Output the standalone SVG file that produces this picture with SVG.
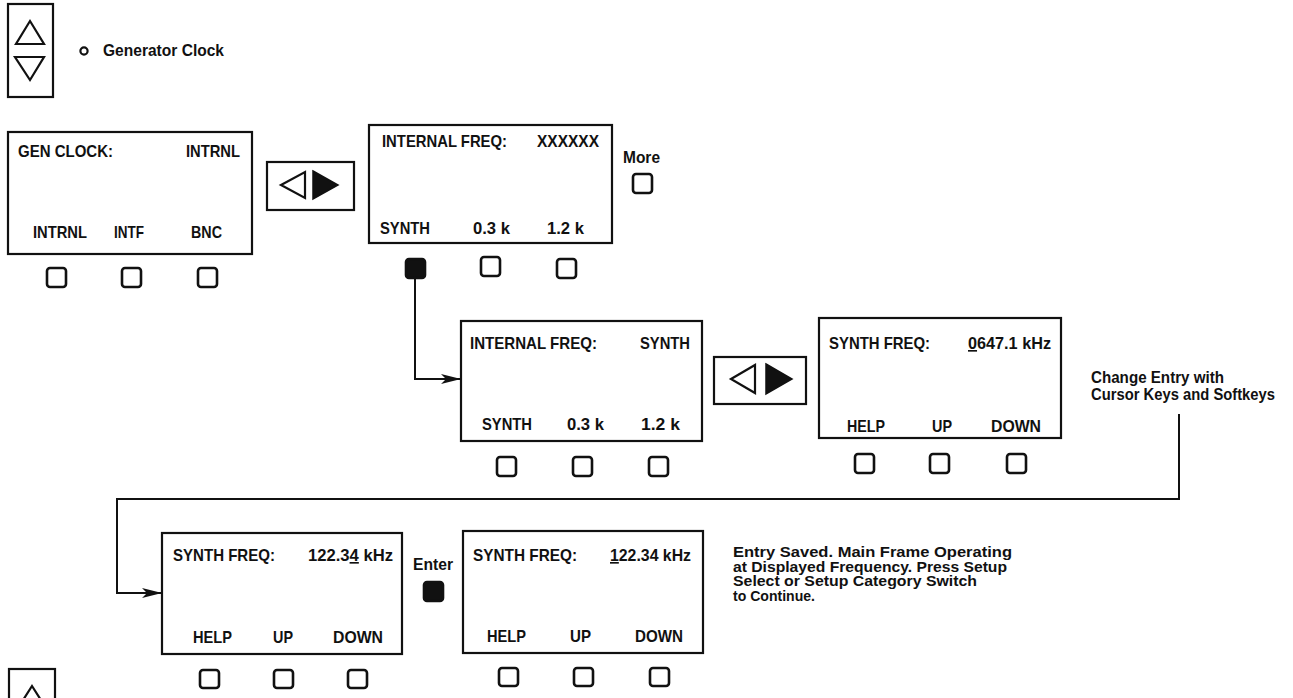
<svg xmlns="http://www.w3.org/2000/svg" width="1293" height="698" viewBox="0 0 1293 698">
<style>
text{font-family:"Liberation Sans",Arial,sans-serif;font-weight:bold;font-size:16.5px;fill:#111}
.p{font-size:15.5px}
.box{fill:none;stroke:#111;stroke-width:2.2}
.btn{fill:#fff;stroke:#111;stroke-width:2.6}
.btnf{fill:#111;stroke:#111;stroke-width:2.6}
.tri{fill:none;stroke:#111;stroke-width:2.2;stroke-linejoin:miter}
.trif{fill:#111;stroke:#111;stroke-width:1.5}
.wire{fill:none;stroke:#111;stroke-width:2}
.u{text-decoration:underline}
</style>
<defs>
<marker id="ah" viewBox="0 0 20 10" refX="20" refY="5" markerWidth="20" markerHeight="10" markerUnits="userSpaceOnUse" orient="auto">
<path d="M0,0 L20,5 L0,10 L5,5 z" fill="#111"/>
</marker>
</defs>

<g id="scroll-key-top">
<rect class="box" x="8" y="4" width="45" height="93"/>
<polygon class="tri" points="30,21 44,44 16,44"/>
<polygon class="tri" points="15,57 44,57 30,80"/>
</g>
<g id="generator-clock-label">
<circle cx="84" cy="51" r="3.6" fill="none" stroke="#111" stroke-width="2.2"/>
<text x="103" y="56" textLength="121" lengthAdjust="spacingAndGlyphs">Generator Clock</text>
</g>

<g id="screen-gen-clock">
<rect class="box" x="8" y="132" width="244" height="122"/>
<text x="18" y="157" textLength="95" lengthAdjust="spacingAndGlyphs">GEN CLOCK:</text>
<text x="186" y="157" textLength="54" lengthAdjust="spacingAndGlyphs">INTRNL</text>
<text x="33" y="238" textLength="54" lengthAdjust="spacingAndGlyphs">INTRNL</text>
<text x="114" y="238" textLength="30" lengthAdjust="spacingAndGlyphs">INTF</text>
<text x="191" y="238" textLength="31" lengthAdjust="spacingAndGlyphs">BNC</text>
<rect class="btn" x="47" y="268" width="19" height="19" rx="3"/>
<rect class="btn" x="122" y="268" width="19" height="19" rx="3"/>
<rect class="btn" x="198" y="268" width="19" height="19" rx="3"/>
</g>

<g id="cursor-keys-1">
<rect class="box" x="267" y="162" width="87" height="48"/>
<polygon class="tri" points="281,185 305,172 305,198"/>
<polygon class="trif" points="313,171 338,185 313,199"/>
</g>

<g id="screen-internal-freq">
<rect class="box" x="369" y="125" width="243" height="118"/>
<text x="382" y="147" textLength="125" lengthAdjust="spacingAndGlyphs">INTERNAL FREQ:</text>
<text x="537" y="147" textLength="62" lengthAdjust="spacingAndGlyphs">XXXXXX</text>
<text x="380" y="234" textLength="50" lengthAdjust="spacingAndGlyphs">SYNTH</text>
<text x="473" y="234" textLength="37" lengthAdjust="spacingAndGlyphs">0.3 k</text>
<text x="547" y="234" textLength="37" lengthAdjust="spacingAndGlyphs">1.2 k</text>
<rect class="btnf" x="406" y="259" width="19" height="19" rx="3"/>
<rect class="btn" x="481" y="257" width="19" height="19" rx="3"/>
<rect class="btn" x="557" y="259" width="19" height="19" rx="3"/>
</g>

<g id="more-key">
<text x="623" y="163" textLength="37" lengthAdjust="spacingAndGlyphs">More</text>
<rect class="btn" x="633" y="174" width="19" height="19" rx="3"/>
</g>

<g id="screen-internal-synth">
<rect class="box" x="461" y="321" width="241" height="120"/>
<text x="470" y="349" textLength="127" lengthAdjust="spacingAndGlyphs">INTERNAL FREQ:</text>
<text x="640" y="349" textLength="50" lengthAdjust="spacingAndGlyphs">SYNTH</text>
<text x="482" y="430" textLength="50" lengthAdjust="spacingAndGlyphs">SYNTH</text>
<text x="567" y="430" textLength="37" lengthAdjust="spacingAndGlyphs">0.3 k</text>
<text x="641" y="430" textLength="39" lengthAdjust="spacingAndGlyphs">1.2 k</text>
<rect class="btn" x="497" y="457" width="19" height="19" rx="3"/>
<rect class="btn" x="573" y="457" width="19" height="19" rx="3"/>
<rect class="btn" x="649" y="457" width="19" height="19" rx="3"/>
</g>

<g id="cursor-keys-2">
<rect class="box" x="714" y="357" width="92" height="47"/>
<polygon class="tri" points="731,379 755,365 755,393"/>
<polygon class="trif" points="766,364 792,379 766,394"/>
</g>

<g id="screen-synth-freq-1">
<rect class="box" x="819" y="318" width="242" height="120"/>
<text x="829" y="349" textLength="101" lengthAdjust="spacingAndGlyphs">SYNTH FREQ:</text>
<text x="968" y="349" textLength="83" lengthAdjust="spacingAndGlyphs"><tspan class="u">0</tspan>647.1 kHz</text>
<text x="847" y="432" textLength="38" lengthAdjust="spacingAndGlyphs">HELP</text>
<text x="932" y="432" textLength="20" lengthAdjust="spacingAndGlyphs">UP</text>
<text x="991" y="432" textLength="50" lengthAdjust="spacingAndGlyphs">DOWN</text>
<rect class="btn" x="855" y="454" width="19" height="19" rx="3"/>
<rect class="btn" x="930" y="454" width="19" height="19" rx="3"/>
<rect class="btn" x="1007" y="454" width="19" height="19" rx="3"/>
</g>

<g id="change-entry-note">
<text x="1091" y="383" textLength="133" lengthAdjust="spacingAndGlyphs">Change Entry with</text>
<text x="1091" y="400" textLength="184" lengthAdjust="spacingAndGlyphs">Cursor Keys and Softkeys</text>
</g>

<g id="screen-synth-freq-2">
<rect class="box" x="162" y="533" width="240" height="121"/>
<text x="173" y="561" textLength="102" lengthAdjust="spacingAndGlyphs">SYNTH FREQ:</text>
<text x="308" y="561" textLength="85" lengthAdjust="spacingAndGlyphs">122.3<tspan class="u">4</tspan> kHz</text>
<text x="193" y="643" textLength="39" lengthAdjust="spacingAndGlyphs">HELP</text>
<text x="273" y="643" textLength="20" lengthAdjust="spacingAndGlyphs">UP</text>
<text x="333" y="643" textLength="50" lengthAdjust="spacingAndGlyphs">DOWN</text>
<rect class="btn" x="200" y="670" width="19" height="18" rx="3"/>
<rect class="btn" x="274" y="670" width="19" height="18" rx="3"/>
<rect class="btn" x="348" y="670" width="19" height="18" rx="3"/>
</g>

<g id="enter-key">
<text x="413" y="570" textLength="40" lengthAdjust="spacingAndGlyphs">Enter</text>
<rect class="btnf" x="424" y="582" width="19" height="19" rx="3"/>
</g>

<g id="screen-synth-freq-3">
<rect class="box" x="463" y="531" width="240" height="122"/>
<text x="473" y="561" textLength="104" lengthAdjust="spacingAndGlyphs">SYNTH FREQ:</text>
<text x="610" y="561" textLength="81" lengthAdjust="spacingAndGlyphs"><tspan class="u">1</tspan>22.34 kHz</text>
<text x="487" y="642" textLength="39" lengthAdjust="spacingAndGlyphs">HELP</text>
<text x="570" y="642" textLength="21" lengthAdjust="spacingAndGlyphs">UP</text>
<text x="635" y="642" textLength="48" lengthAdjust="spacingAndGlyphs">DOWN</text>
<rect class="btn" x="499" y="668" width="19" height="18" rx="3"/>
<rect class="btn" x="574" y="668" width="19" height="18" rx="3"/>
<rect class="btn" x="650" y="668" width="19" height="18" rx="3"/>
</g>

<g id="entry-saved-note">
<text class="p" x="733" y="557" textLength="279" lengthAdjust="spacingAndGlyphs">Entry Saved. Main Frame Operating</text>
<text class="p" x="733" y="571.5" textLength="274" lengthAdjust="spacingAndGlyphs">at Displayed Frequency. Press Setup</text>
<text class="p" x="733" y="586" textLength="244" lengthAdjust="spacingAndGlyphs">Select or Setup Category Switch</text>
<text class="p" x="733" y="600.5" textLength="82" lengthAdjust="spacingAndGlyphs">to Continue.</text>
</g>

<g id="scroll-key-bottom">
<rect class="box" x="9" y="669" width="46" height="45"/>
<polygon class="tri" points="32,686 46,708 18,708"/>
</g>

<g id="connectors">
<path class="wire" d="M415,278 V379 H461" marker-end="url(#ah)"/>
<path class="wire" d="M1179,414 V499 H117 V593 H162" marker-end="url(#ah)"/>
</g>
</svg>
